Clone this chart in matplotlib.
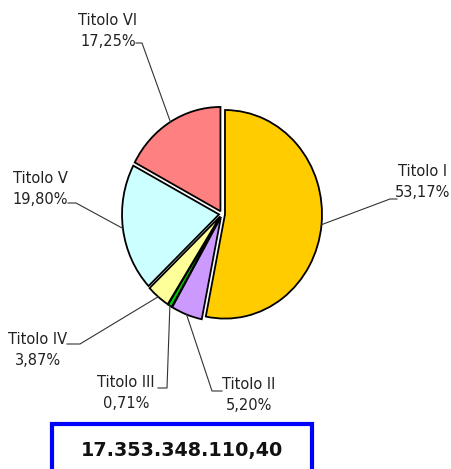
import numpy as np
import matplotlib
matplotlib.use('Agg')
from matplotlib import pyplot as plt
from matplotlib.patches import Rectangle

# data
labels = ['Titolo I', 'Titolo II', 'Titolo III', 'Titolo IV', 'Titolo V', 'Titolo VI']
values = [53.17, 5.20, 0.71, 3.87, 19.80, 17.25]
pct_text = ['53,17%', '5,20%', '0,71%', '3,87%', '19,80%', '17,25%']
colors = ['#FFCC00', '#CC99FF', '#00CC00', '#FFFF99', '#CCFFFF', '#FF8080']
total_text = '17.353.348.110,40'

W, H = 451, 469
S = 1.075  # the original pie is slightly taller than wide

# label layout in pixels (text centre x, text centre y, elbow start, elbow corner)
label_pos = [
    (423, 182, (397, 199), (390, 199)),
    (249, 395, (222, 391), (212, 391)),
    (126, 393, (158, 388), (167, 388)),
    (38, 350, (67, 344), (80, 344)),
    (40, 189, (68, 203), (76, 203)),
    (108, 31, (136, 43), (142, 43)),
]


def fy(py):
    return (H - py) / S


def main():
    fig = plt.figure(figsize=(W / 100, H / 100), dpi=100)
    ax = fig.add_axes([0, 0, 1, 1])

    cx, cy, r = 222, fy(214), 97
    # explode is an absolute offset here (axes in pixel units)
    wedges, _ = ax.pie(values, colors=colors, startangle=90, counterclock=False,
                       explode=[3] * len(values), center=(cx, cy), radius=r,
                       wedgeprops=dict(edgecolor='black', linewidth=1.3))
    ax.set_aspect('auto')
    ax.set_xlim(0, W)
    ax.set_ylim(0, H / S)
    ax.axis('off')

    for w, lab, pct, (tx, ty, p0, p1) in zip(wedges, labels, pct_text, label_pos):
        mid = np.deg2rad((w.theta1 + w.theta2) / 2)
        wx, wy = w.center
        ax_pt = (wx + w.r * np.cos(mid), wy + w.r * np.sin(mid))
        xs = [p0[0], p1[0], ax_pt[0]]
        ys = [fy(p0[1]), fy(p1[1]), ax_pt[1]]
        ax.plot(xs, ys, color='#333333', lw=0.8)
        ax.text(tx, fy(ty), lab + '\n' + pct, ha='center', va='center',
                multialignment='center', fontsize=10.5, color='#222222',
                family='DejaVu Sans', linespacing=1.45)

    ax.add_patch(Rectangle((52, fy(472)), 260, (472 - 424) / S, fill=False,
                           edgecolor='#0000FF', lw=3, clip_on=False))
    ax.text(182, fy(450), total_text, ha='center', va='center', fontsize=13.8,
            fontweight='bold', color='#111111', family='DejaVu Sans')

    fig.savefig('out.png', dpi=100)


main()
